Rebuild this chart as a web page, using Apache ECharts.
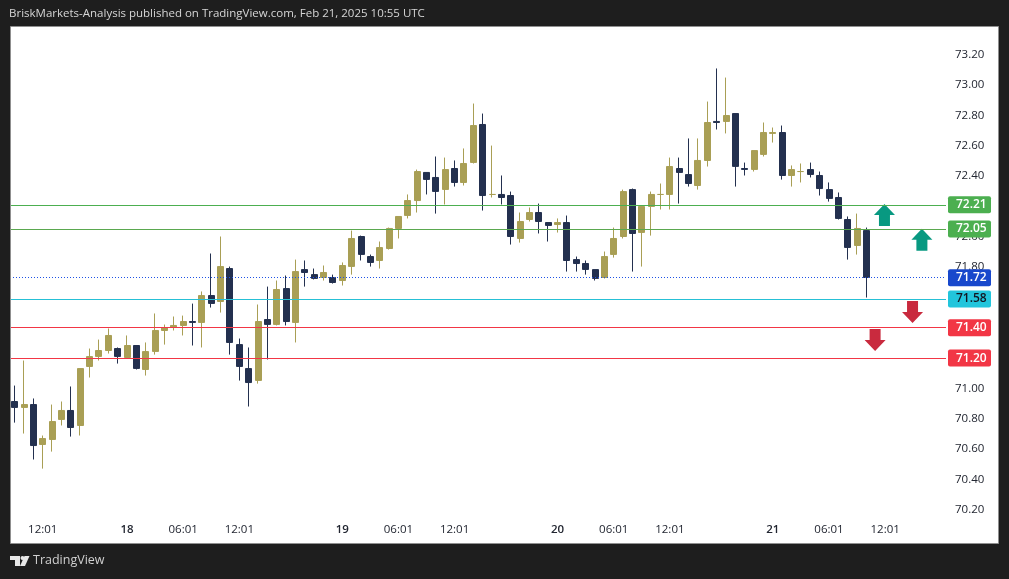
<!DOCTYPE html>
<html>
<head>
<meta charset="utf-8">
<title>BriskMarkets-Analysis</title>
<script src="https://cdn.jsdelivr.net/npm/echarts@6/dist/echarts.min.js"></script>
<style>
  html, body { margin: 0; padding: 0; background: #1e1e1e; }
  #chart { width: 1009px; height: 579px; }
</style>
</head>
<body>
<div id="chart"></div>
<script>
// hourly bars
const opens = [70.914,70.875,70.894,70.631,70.664,70.796,70.855,70.756,71.145,71.211,71.250,71.263,71.204,71.283,71.125,71.244,71.382,71.402,71.415,71.441,71.435,71.612,71.573,71.790,71.289,71.131,71.053,71.454,71.422,71.658,71.435,71.783,71.750,71.731,71.731,71.711,71.804,72.001,71.869,71.843,71.922,72.054,72.140,72.238,72.423,72.390,72.311,72.449,72.357,72.489,72.739,72.278,72.278,72.271,71.988,72.113,72.159,72.093,72.080,72.093,71.849,71.823,71.783,71.731,71.883,72.001,72.310,72.028,72.199,72.278,72.278,72.449,72.409,72.337,72.502,72.759,72.759,72.811,72.449,72.443,72.542,72.680,72.686,72.403,72.429,72.442,72.403,72.310,72.258,72.113,71.942,72.040];
const closes = [70.875,70.894,70.624,70.670,70.782,70.855,70.743,71.131,71.210,71.250,71.349,71.211,71.283,71.132,71.243,71.382,71.401,71.415,71.441,71.435,71.612,71.560,71.803,71.303,71.145,71.039,71.441,71.422,71.652,71.441,71.770,71.764,71.725,71.764,71.698,71.810,71.988,71.883,71.830,71.928,72.054,72.133,72.238,72.429,72.377,72.298,72.442,72.357,72.482,72.732,72.271,72.278,72.258,72.001,72.100,72.159,72.100,72.074,72.093,71.843,71.823,71.784,71.725,71.869,71.988,72.297,72.021,72.199,72.278,72.278,72.462,72.423,72.350,72.502,72.752,72.752,72.798,72.463,72.443,72.567,72.686,72.686,72.403,72.442,72.429,72.410,72.317,72.252,72.120,71.929,72.054,71.731];
const lows = [70.775,70.703,70.532,70.472,70.584,70.756,70.683,70.690,71.072,71.184,71.230,71.164,71.197,71.125,71.085,71.223,71.289,71.382,71.349,71.283,71.270,71.533,71.500,71.223,71.052,70.881,71.032,71.191,71.415,71.415,71.303,71.671,71.718,71.711,71.691,71.678,71.750,71.843,71.803,71.790,71.915,71.988,72.120,72.159,72.278,72.152,72.212,72.330,72.337,72.482,72.172,72.258,72.212,71.948,71.961,72.100,72.021,71.968,72.027,71.770,71.770,71.750,71.711,71.724,71.862,71.988,71.770,71.803,72.007,72.179,72.179,72.218,72.330,72.310,72.462,72.706,72.680,72.330,72.403,72.429,72.528,72.620,72.376,72.330,72.357,72.390,72.271,72.231,72.113,71.849,71.882,71.599];
const highs = [71.019,71.184,70.934,70.690,70.894,70.914,71.013,71.131,71.263,71.322,71.395,71.270,71.349,71.283,71.303,71.494,71.421,71.474,71.480,71.559,71.639,71.889,72.001,71.803,71.329,71.270,71.553,71.671,71.711,71.744,71.849,71.843,71.790,71.810,71.750,71.830,72.040,72.007,71.882,71.968,72.060,72.133,72.278,72.442,72.423,72.528,72.521,72.502,72.581,72.877,72.811,72.600,72.403,72.297,72.159,72.192,72.218,72.093,72.120,72.139,71.869,71.843,71.783,71.902,72.060,72.310,72.317,72.199,72.297,72.350,72.521,72.521,72.647,72.647,72.890,73.108,73.048,72.811,72.488,72.567,72.752,72.719,72.732,72.469,72.482,72.488,72.429,72.357,72.291,72.133,72.152,72.060];

// time axis: 92 bars plus empty room on the right
const barCount = 100;
const tickBars = [3, 12, 18, 24, 35, 41, 47, 58, 64, 70, 81, 87, 93];
const tickLabels = ['12:01', '18', '06:01', '12:01', '19', '06:01', '12:01', '20', '06:01', '12:01', '21', '06:01', '12:01'];

// horizontal levels
const levelPrices = [72.214, 72.046, 71.726, 71.590, 71.40, 71.198];
const levelLabels = ['72.21', '72.05', '71.72', '71.58', '71.40', '71.20'];
const levelColors = ['#4caf50', '#5aa84f', '#1d52e6', '#26c0d6', '#f23645', '#f23645'];
const levelTagColors = ['#4caf50', '#4caf50', '#1848cc', '#22c5dc', '#f23645', '#f23645'];
const levelTextColors = ['#ffffff', '#ffffff', '#ffffff', '#131722', '#ffffff', '#ffffff'];

// arrows
const upArrowBars = [93, 97];
const upArrowPrices = [72.143, 71.979];
const downArrowBars = [92, 96];
const downArrowPrices = [71.319, 71.503];

const upColor = '#a99f55';
const downColor = '#23304f';
const arrowPath = 'path://M10.5 0 L21 11 L16 11 L16 22 L5 22 L5 11 L0 11 Z';
const font = '"Open Sans", "Noto Sans", sans-serif';

const categories = [];
for (let i = 0; i < barCount; i++) {
  const t = tickBars.indexOf(i);
  categories.push(t >= 0 ? tickLabels[t] : '');
}

const chart = echarts.init(document.getElementById('chart'));

chart.setOption({
  animation: false,
  backgroundColor: '#1e1e1e',
  textStyle: { fontFamily: font },
  title: {
    text: 'BriskMarkets-Analysis published on TradingView.com, Feb 21, 2025 10:55 UTC',
    left: 9,
    top: 8,
    padding: 0,
    textStyle: { color: '#d6d6d6', fontSize: 11.5, fontWeight: 'normal', fontFamily: font }
  },
  grid: { left: 10, top: 54.5, width: 936, height: 455.4 },
  xAxis: {
    type: 'category',
    data: categories,
    boundaryGap: true,
    axisLine: { show: false },
    axisTick: { show: false },
    splitLine: { show: false },
    axisLabel: {
      interval: 0,
      margin: 14,
      color: '#222631',
      fontSize: 11.5,
      fontFamily: font,
      hideOverlap: false,
      formatter: function (v) {
        return v.length === 2 ? '{day|' + v + '}' : v;
      },
      rich: { day: { fontWeight: 600, fontSize: 11.5, color: '#222631', fontFamily: font } }
    }
  },
  yAxis: {
    type: 'value',
    position: 'right',
    min: 70.2,
    max: 73.2,
    interval: 0.2,
    axisLine: { show: false },
    axisTick: { show: false },
    splitLine: { show: false },
    axisLabel: {
      margin: 9,
      color: '#222631',
      fontSize: 11.5,
      fontFamily: font,
      padding: [2, 0, 0, 0],
      formatter: function (v) { return v.toFixed(2); }
    }
  },
  graphic: [
    { type: 'rect', z: -1, shape: { x: 10.5, y: 26.5, width: 988, height: 517 }, style: { fill: '#ffffff', stroke: '#8f8f8f', lineWidth: 1 } },
    { type: 'rect', z: 50, shape: { x: 0, y: 27, width: 10, height: 516 }, style: { fill: '#1e1e1e' } },
    { type: 'rect', z: 50, shape: { x: 10, y: 27, width: 1, height: 516 }, style: { fill: '#8f8f8f' } },
    // TV logo
    { type: 'polygon', shape: { points: [[10, 556], [20, 556], [20, 566], [15, 566], [15, 560], [10, 560]] }, style: { fill: '#e8e8e8' } },
    { type: 'circle', shape: { cx: 22.5, cy: 558, r: 2 }, style: { fill: '#e8e8e8' } },
    { type: 'polygon', shape: { points: [[24.5, 556], [29.5, 556], [25, 566], [20, 566]] }, style: { fill: '#e8e8e8' } },
    { type: 'text', x: 33, y: 554, style: { text: 'TradingView', fill: '#d0d0d0', fontSize: 12.5, fontFamily: font } }
  ],
  series: [
    {
      type: 'candlestick',
      barWidth: 6.5,
      data: opens.map((o, i) => [o, closes[i], lows[i], highs[i]]),
      itemStyle: {
        color: upColor,
        color0: downColor,
        borderColor: upColor,
        borderColor0: downColor,
        borderColorDoji: upColor,
        borderWidth: 1
      },
      markLine: {
        silent: true,
        symbol: 'none',
        animation: false,
        data: levelPrices.map((p, i) => ({
          yAxis: p,
          lineStyle: {
            color: levelColors[i],
            width: 1,
            type: i === 2 ? [1, 2] : 'solid'
          },
          label: {
            show: true,
            position: 'end',
            distance: 2,
            formatter: levelLabels[i],
            color: levelTextColors[i],
            backgroundColor: levelTagColors[i],
            borderRadius: 2,
            fontSize: 12,
            fontWeight: 600,
            fontFamily: font,
            padding: [3, 4, 2, 8],
            width: 31,
            align: 'left'
          }
        }))
      }
    },
    {
      type: 'scatter',
      symbol: arrowPath,
      symbolSize: [21, 22],
      symbolOffset: [-0.7, 0],
      itemStyle: { color: '#089981', opacity: 1 },
      data: upArrowBars.map((b, i) => [b, upArrowPrices[i]])
    },
    {
      type: 'scatter',
      symbol: arrowPath,
      symbolSize: [21, 22],
      symbolOffset: [-0.7, 0],
      symbolRotate: 180,
      itemStyle: { color: '#c92a3e', opacity: 1 },
      data: downArrowBars.map((b, i) => [b, downArrowPrices[i]])
    }
  ]
});
</script>
</body>
</html>
